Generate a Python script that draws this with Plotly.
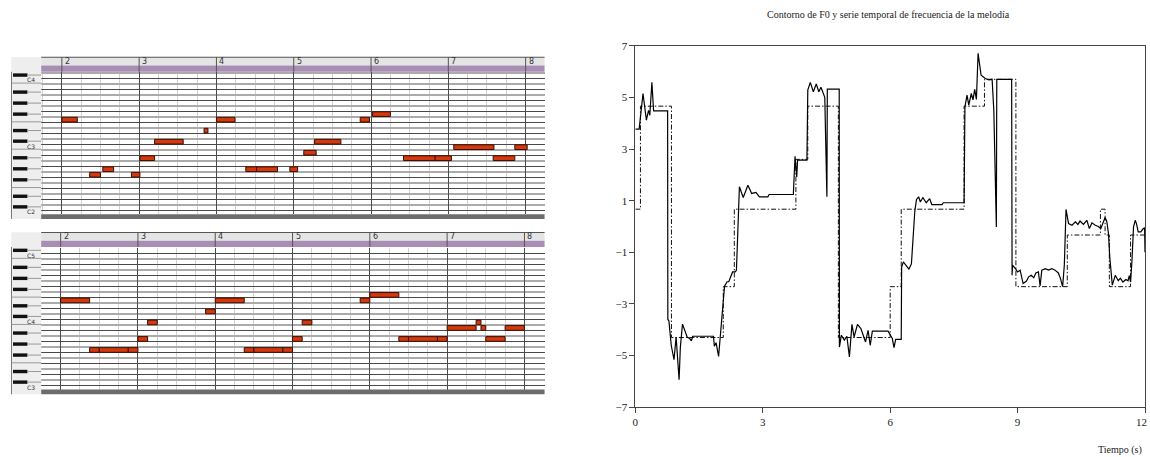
import plotly.graph_objects as go

W, H = 1150, 457

# ---------------- right chart data ----------------
f0_t = [0.00, 0.09, 0.18, 0.26, 0.31, 0.34, 0.39, 0.43, 0.76, 0.765, 0.79, 0.845, 0.91, 0.96, 1.03, 1.06,
        1.11, 1.16, 1.22, 1.28, 1.32, 1.35, 1.84, 1.86, 1.90, 1.96, 2.00, 2.06, 2.10, 2.16, 2.20, 2.25,
        2.29, 2.35, 2.38, 2.45, 2.54, 2.65, 2.74, 2.84, 2.92, 3.12, 3.15, 3.72, 3.74, 3.76, 3.80, 3.82,
        4.04, 4.06, 4.12, 4.19, 4.26, 4.32, 4.37, 4.42, 4.46, 4.51, 4.52, 4.80, 4.805, 4.85, 4.92, 4.98,
        5.04, 5.10, 5.15, 5.23, 5.31, 5.42, 5.48, 5.53, 5.58, 5.95, 6.00, 6.05, 6.09, 6.13, 6.26, 6.27,
        6.31, 6.44, 6.50, 6.54, 6.58, 6.62, 6.67, 6.71, 6.77, 6.85, 6.93, 6.98, 7.22, 7.25, 7.74, 7.76,
        7.81, 7.85, 7.91, 7.95, 7.99, 8.03, 8.07, 8.14, 8.24, 8.32, 8.40, 8.44, 8.48, 8.50, 8.51, 8.86,
        8.87, 8.88, 8.95, 9.00, 9.06, 9.13, 9.21, 9.26, 9.32, 9.38, 9.43, 9.49, 9.53, 9.57, 9.65, 9.73,
        9.81, 9.88, 9.96, 10.01, 10.06, 10.10, 10.14, 10.20, 10.28, 10.36, 10.42, 10.47, 10.55, 10.63,
        10.69, 10.75, 10.83, 10.90, 10.96, 11.02, 11.06, 11.10, 11.14, 11.17, 11.20, 11.23, 11.30, 11.37,
        11.42, 11.48, 11.55, 11.60, 11.63, 11.66, 11.69, 11.73, 11.77, 11.80, 11.84, 11.90, 11.96, 11.99,
        12.00]
f0_v = [3.77, 3.77, 5.15, 4.12, 4.50, 4.30, 5.58, 4.48, 4.48, -3.60, -3.65, -4.60, -5.16, -4.28, -5.93, -4.67,
        -3.78, -4.02, -4.28, -4.34, -4.43, -4.25, -4.25, -4.64, -4.50, -5.03, -4.30, -3.09, -2.31, -2.14, -2.14, -1.93,
        -1.76, -1.76, -1.70, 1.54, 1.12, 1.60, 1.28, 1.32, 1.15, 1.15, 1.24, 1.24, 2.45, 2.72, 1.92, 2.57,
        2.57, 5.28, 5.58, 5.22, 5.52, 5.22, 5.39, 5.16, 5.00, 1.15, 5.32, 5.32, -4.67, -4.21, -4.40, -4.25,
        -5.05, -3.79, -4.28, -3.79, -3.95, -4.47, -4.02, -4.60, -4.05, -4.05, -4.21, -4.34, -4.69, -4.37, -4.37, -1.57,
        -1.37, -1.65, -1.45, -0.50, 0.60, 1.05, 1.15, 0.95, 1.12, 0.92, 1.08, 0.85, 0.85, 0.92, 0.92, 4.64,
        5.09, 4.70, 5.15, 4.90, 5.31, 4.92, 6.71, 5.86, 5.73, 5.68, 5.70, 4.50, 1.50, -0.02, 5.70, 5.70,
        -1.89, -1.50, -1.63, -1.76, -1.69, -2.21, -2.11, -1.95, -1.89, -1.98, -1.80, -1.76, -2.30, -1.69, -1.63, -1.69,
        -1.63, -1.69, -1.80, -2.02, -2.33, -1.50, 0.66, 0.11, 0.05, 0.18, 0.08, 0.21, 0.08, 0.24,
        -0.08, 0.14, 0.05, 0.00, -0.08, 0.18, 0.35, 0.20, -0.27, -1.18, -1.95, -2.27, -1.89, -2.10,
        -2.00, -2.15, -2.05, -2.10, -1.90, -2.15, -1.40, 0.00, 0.24, 0.10, -0.21, -0.21, -0.08, -0.05,
        -1.00]

mel_t = [0.00, 0.12, 0.85, 2.07, 2.33, 3.78, 4.06, 4.78, 6.00, 6.26, 7.74, 8.22, 8.96, 10.17, 10.95,
         11.06, 11.16, 11.66, 12.00]
mel_v = [0.67, 4.66, -4.30, -2.33, 0.67, 2.60, 4.66, -4.30, -2.33, 0.67, 4.66, 5.70, -2.33, -0.33, 0.67,
         -0.33, -2.33, -0.33, -0.33]

x_ticks = [0, 3, 6, 9, 12]
y_ticks = [-7, -5, -3, -1, 1, 3, 5, 7]

# ---------------- piano roll data (measures, pitch rows) ----------------
top_start = [2.00, 3.84, 3.20, 3.01, 2.53, 2.36, 2.90, 4.00, 4.38, 4.52, 4.95, 5.13, 5.27, 5.86, 6.02,
             6.42, 6.83, 7.07, 7.58, 7.86]
top_end = [2.20, 3.89, 3.57, 3.20, 2.67, 2.50, 3.01, 4.24, 4.52, 4.79, 5.05, 5.29, 5.61, 5.98, 6.25,
           6.83, 7.04, 7.59, 7.86, 8.02]
top_pitch = [17, 15, 13, 10, 8, 7, 7, 17, 8, 8, 8, 11, 13, 17, 18, 10, 10, 12, 10, 12]

bot_start = [2.000, 3.875, 3.125, 3.000, 2.375, 2.500, 2.875, 4.000, 4.375, 4.500, 4.875, 5.000, 5.125,
             5.875, 6.000, 6.375, 6.500, 6.875, 7.000, 7.375, 7.4375, 7.500, 7.750]
bot_end = [2.375, 4.000, 3.250, 3.125, 2.500, 2.875, 3.000, 4.375, 4.500, 4.875, 5.000, 5.125, 5.250,
           6.000, 6.375, 6.500, 6.875, 7.000, 7.375, 7.4375, 7.500, 7.750, 8.000]
bot_pitch = [16, 14, 12, 9, 7, 7, 7, 16, 7, 7, 7, 9, 12, 16, 17, 9, 9, 9, 11, 12, 11, 9, 11]

measures = [2, 3, 4, 5, 6, 7, 8]
top_octaves = ["C4", "C3", "C2"]
bot_octaves = ["C5", "C4", "C3"]

# ---------------- helpers ----------------
# empirical vertical compensation of the capture (measured on previous renders)
VC, VS = 228.5, 0.9723

def PX(x):
    return x / W

def PY(y):
    yf = VC + (y - VC) / VS
    return 1 - yf / H

SERIF = "Liberation Serif"
SANS = "DejaVu Sans"

fig = go.Figure()

fig.add_trace(go.Scatter(x=mel_t, y=mel_v, mode="lines",
                         line=dict(color="#111", width=1, dash="5px,2px,1.5px,2px", shape="hv"),
                         xaxis="x", yaxis="y", showlegend=False, hoverinfo="skip"))
fig.add_trace(go.Scatter(x=f0_t, y=f0_v, mode="lines", line=dict(color="#000", width=1.2),
                         xaxis="x", yaxis="y", showlegend=False, hoverinfo="skip"))

for (st, en, pi, xa, ya) in [(top_start, top_end, top_pitch, "x2", "y2"), (bot_start, bot_end, bot_pitch, "x3", "y3")]:
    fig.add_trace(go.Bar(orientation="h", base=st, x=[e - s for s, e in zip(st, en)], y=pi, width=0.85,
                         marker=dict(color="#d4380c", line=dict(color="#3a1005", width=1)),
                         xaxis=xa, yaxis=ya, showlegend=False, hoverinfo="skip"))

shapes = []
annotations = []

panels = [
    dict(dy=0, octs=top_octaves, xa="x2"),
    dict(dy=175, octs=bot_octaves, xa="x3"),
]
mw = 77.5
gx0, gx1 = 38.3, 543.0

for p in panels:
    dy = p["dy"]
    shapes.append(dict(type="rect", xref="paper", yref="paper", x0=PX(8.3), x1=PX(gx0), y0=PY(57.3 + dy), y1=PY(219 + dy),
                       fillcolor="#eeeeee", line=dict(width=0), layer="above"))
    shapes.append(dict(type="line", xref="paper", yref="paper", x0=PX(8.5), x1=PX(8.5), y0=PY(72 + dy), y1=PY(219 + dy),
                       line=dict(color="#777", width=1), layer="above"))
    shapes.append(dict(type="rect", xref="paper", yref="paper", x0=PX(gx0), x1=PX(gx1), y0=PY(57.3 + dy), y1=PY(65.7 + dy),
                       fillcolor="#e4e4e4", line=dict(width=0), layer="above"))
    shapes.append(dict(type="line", xref="paper", yref="paper", x0=PX(gx0), x1=PX(gx1), y0=PY(57.5 + dy), y1=PY(57.5 + dy),
                       line=dict(color="#555", width=1), layer="above"))
    shapes.append(dict(type="rect", xref="paper", yref="paper", x0=PX(gx0), x1=PX(gx1), y0=PY(65.7 + dy), y1=PY(72 + dy),
                       fillcolor="#a88db4", line=dict(width=0), layer="above"))
    shapes.append(dict(type="rect", xref="paper", yref="paper", x0=PX(gx0), x1=PX(gx1), y0=PY(214.3 + dy), y1=PY(219 + dy),
                       fillcolor="#6c6c6c", line=dict(width=0), layer="above"))
    for m in measures:
        shapes.append(dict(type="line", xref=p["xa"], yref="paper", x0=m, x1=m, y0=PY(57.3 + dy), y1=PY(72 + dy),
                           line=dict(color="#555", width=1), layer="above"))
        annotations.append(dict(x=m, y=PY(61.8 + dy), xref=p["xa"], yref="paper", text=str(m), showarrow=False,
                                xanchor="left", yanchor="middle", xshift=1, font=dict(family=SANS, size=8, color="#333")))
    cys = [80.7 + dy, 146.7 + dy, 212.3 + dy]
    for lab, cy in zip(p["octs"], cys):
        for off in [-5.4, -16.0, -32.4, -43.4, -54.4]:
            ky = cy + off
            if 72 + dy < ky < 214 + dy:
                shapes.append(dict(type="rect", xref="paper", yref="paper", x0=PX(10), x1=PX(24.5), y0=PY(ky - 1.7), y1=PY(ky + 1.7),
                                   fillcolor="#111", line=dict(width=0), layer="above"))
                shapes.append(dict(type="line", xref="paper", yref="paper", x0=PX(24.5), x1=PX(gx0), y0=PY(ky), y1=PY(ky),
                                   line=dict(color="#999", width=1), layer="above"))
        for off in [2.6, -24.7]:
            ly = cy + off
            if 72 + dy < ly < 214 + dy:
                shapes.append(dict(type="line", xref="paper", yref="paper", x0=PX(8.5), x1=PX(gx0), y0=PY(ly), y1=PY(ly),
                                   line=dict(color="#999", width=1), layer="above"))
        annotations.append(dict(x=PX(28.5), y=PY(cy - 0.5), xref="paper", yref="paper", text=lab, showarrow=False,
                                xanchor="center", yanchor="middle", font=dict(family=SANS, size=6, color="#333")))

annotations.append(dict(x=PX(888), y=PY(15), xref="paper", yref="paper", showarrow=False,
                        xanchor="center", yanchor="middle",
                        text="Contorno de F0 y serie temporal de frecuencia de la melodía",
                        font=dict(family=SERIF, size=10, color="#222")))
annotations.append(dict(x=PX(1119.5), y=PY(450), xref="paper", yref="paper", showarrow=False,
                        xanchor="center", yanchor="middle",
                        text="Tiempo (s)", font=dict(family=SERIF, size=10, color="#222")))
# last x tick label, kept inside the page edge
annotations.append(dict(x=x_ticks[-1], y=PY(421.7), xref="x", yref="paper", showarrow=False,
                        xanchor="right", yanchor="middle", xshift=3, borderpad=0,
                        text=str(x_ticks[-1]), font=dict(family=SERIF, size=11, color="#222")))

roll_x = dict(showticklabels=False, ticks="", zeroline=False, showline=False, showgrid=True,
              tickmode="array", tickvals=measures, gridcolor="#4a4a4a", gridwidth=1,
              minor=dict(tickmode="linear", tick0=0, dtick=0.25, showgrid=True, gridcolor="#d2d2d2", gridwidth=1))
roll_y = dict(showticklabels=False, ticks="", zeroline=False, showline=False, showgrid=True,
              tickmode="array", tickvals=[k + 0.5 for k in range(0, 26, 2)], gridcolor="#4a4a4a", gridwidth=1,
              minor=dict(tickmode="array", tickvals=[k + 0.5 for k in range(-1, 26, 2)], showgrid=True,
                         gridcolor="#ababab", gridwidth=2))

fig.update_layout(
    width=W, height=H, margin=dict(l=0, r=0, t=0, b=0),
    paper_bgcolor="white", plot_bgcolor="white", barmode="overlay",
    xaxis=dict(domain=[PX(634), PX(1145)], range=[0, 12], tickmode="array", tickvals=x_ticks[:-1] + [x_ticks[-1]],
               ticktext=[str(v) for v in x_ticks[:-1]] + [""],
               ticks="outside", ticklen=5, tickcolor="#444", showline=True, linecolor="#444", linewidth=1,
               mirror=True, showgrid=False, zeroline=False, anchor="y",
               tickfont=dict(family=SERIF, size=11, color="#222")),
    yaxis=dict(domain=[PY(407), PY(46)], range=[-7, 7], tickmode="array", tickvals=y_ticks,
               ticks="outside", ticklen=5, tickcolor="#444", showline=True, linecolor="#444", linewidth=1,
               mirror=True, showgrid=False, zeroline=False, anchor="x",
               tickfont=dict(family=SERIF, size=11, color="#222")),
    xaxis2=dict(domain=[PX(gx0), PX(gx1)], range=[2 + (gx0 - 59.0) / mw, 2 + (gx1 - 59.0) / mw], anchor="y2", **roll_x),
    yaxis2=dict(domain=[PY(214.3), PY(72)], range=[(213.3 - 214.3) / 5.5, (213.3 - 72) / 5.5], anchor="x2", **roll_y),
    xaxis3=dict(domain=[PX(gx0), PX(gx1)], range=[2 + (gx0 - 57.8) / mw, 2 + (gx1 - 57.8) / mw], anchor="y3", **roll_x),
    yaxis3=dict(domain=[PY(389.3), PY(247.7)], range=[(388.3 - 389.3) / 5.5, (388.3 - 247.7) / 5.5], anchor="x3", **roll_y),
    shapes=shapes, annotations=annotations, showlegend=False,
)

fig.write_html("out.html", config={"displayModeBar": False},
               post_script="document.body.style.margin='0px';document.documentElement.style.overflow='hidden';document.body.style.overflow='hidden';")
